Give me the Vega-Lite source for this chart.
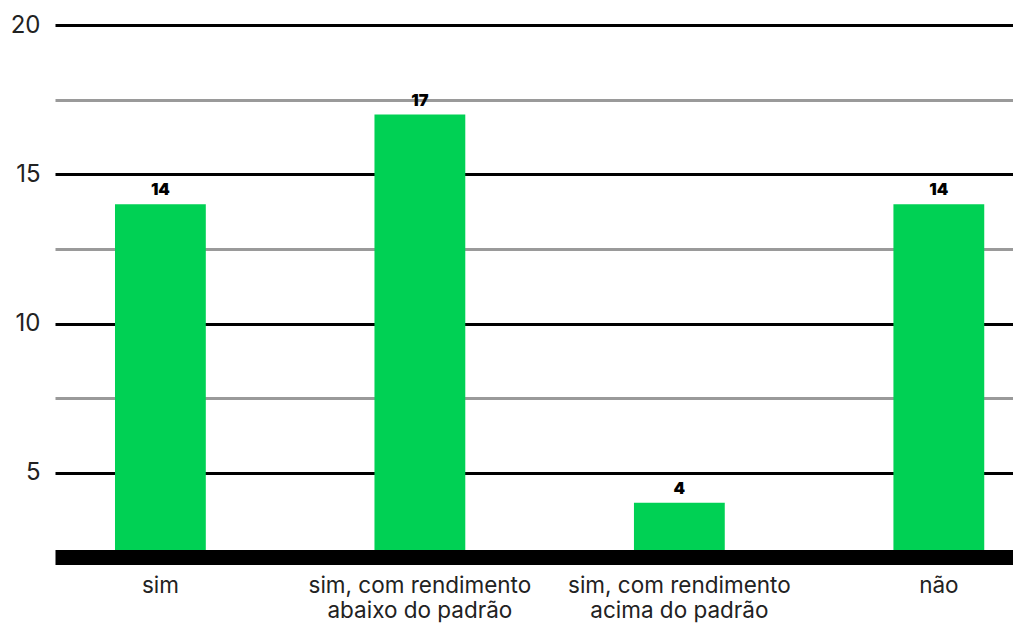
{
  "$schema": "https://vega.github.io/schema/vega-lite/v6.json",
  "width": 958,
  "height": 525,
  "autosize": {"type": "none"},
  "padding": {"left": 55, "top": 25, "right": 0, "bottom": 74},
  "background": "white",
  "config": {
    "view": {"stroke": null},
    "font": "Inter"
  },
  "data": {
    "values": [
      {"categoria": "sim", "valor": 14},
      {"categoria": "sim, com rendimento abaixo do padrão", "valor": 17},
      {"categoria": "sim, com rendimento acima do padrão", "valor": 4},
      {"categoria": "não", "valor": 14}
    ]
  },
  "encoding": {
    "x": {
      "field": "categoria",
      "type": "nominal",
      "sort": null,
      "scale": {"paddingInner": 0.65, "paddingOuter": 0.171, "align": 0.676},
      "axis": {
        "title": null,
        "labelAngle": 0,
        "labelFontSize": 22.5,
        "labelColor": "#222222",
        "labelLineHeight": 25,
        "labelPadding": 17,
        "labelLimit": 0,
        "labelOverlap": false,
        "labelExpr": "split(replace(datum.label, ' rendimento ', ' rendimento|'), '|')",
        "ticks": false,
        "domain": true,
        "domainColor": "black",
        "domainWidth": 15,
        "offset": 7,
        "grid": false
      }
    },
    "y": {
      "field": "valor",
      "type": "quantitative",
      "scale": {"domain": [2.42, 20], "nice": false, "zero": false},
      "axis": {
        "title": null,
        "values": [5, 7.5, 10, 12.5, 15, 17.5, 20],
        "labelExpr": "datum.value % 5 == 0 ? datum.label : ''",
        "labelFontSize": 24,
        "labelColor": "#222222",
        "labelPadding": 15,
        "ticks": false,
        "domain": false,
        "grid": true,
        "gridWidth": 3,
        "gridColor": {"condition": {"test": "datum.value % 5 != 0", "value": "#9a9a9a"}, "value": "black"}
      }
    }
  },
  "layer": [
    {
      "mark": {"type": "bar", "color": "#00D154", "clip": true}
    },
    {
      "mark": {"type": "text", "baseline": "bottom", "dy": -6, "fontSize": 16.5, "fontWeight": 900, "color": "black"},
      "encoding": {"text": {"field": "valor", "type": "quantitative"}}
    }
  ]
}
